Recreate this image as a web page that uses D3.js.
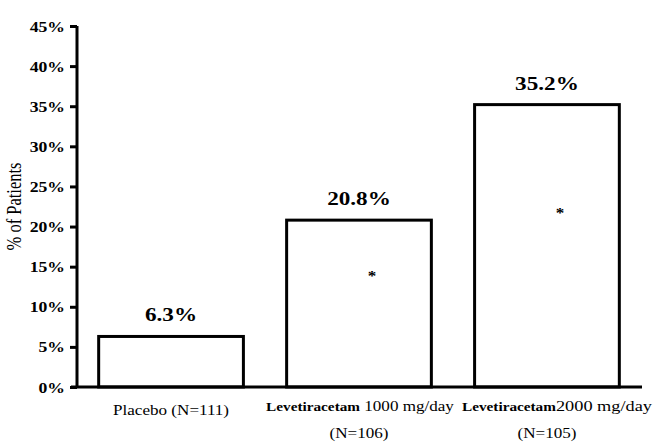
<!DOCTYPE html>
<html>
<head>
<meta charset="utf-8">
<script src="https://cdn.jsdelivr.net/npm/d3@7"></script>
<style>
  html, body { margin: 0; padding: 0; background: #fff; }
  svg { display: block; }
  text { font-family: "Liberation Serif", "Times New Roman", serif; fill: #000; }
</style>
</head>
<body>
<svg id="chart" width="660" height="448"></svg>
<script>
// ---- data ----
const categories = ["Placebo", "Lev1000", "Lev2000"];
const values = [6.3, 20.8, 35.2];
const valueLabels = ["6.3%", "20.8%", "35.2%"];
const labelBold = ["", "Levetiracetam", "Levetiracetam"];
const labelNormal = ["Placebo (N=111)", " 1000 mg/day", "2000 mg/day"];
const labelLine2 = ["", "(N=106)", "(N=105)"];
const asteriskCats = ["Lev1000", "Lev2000"];
const asteriskAt = [14.0, 21.8];
const yTicks = [0, 5, 10, 15, 20, 25, 30, 35, 40, 45];
const yTitle = "% of Patients";

// ---- layout ----
const svg = d3.select("#chart");
const SX = 1.22; // horizontal glyph stretch seen in the reference
const line1Shift = [0, 1, 10];
const x = d3.scaleBand().domain(categories).range([78, 640]).paddingInner(0.23).paddingOuter(0.11);
const y = d3.scaleLinear().domain([0, 45]).range([387, 26]);

// bars
svg.append("g").selectAll("rect").data(categories).join("rect")
  .attr("x", d => x(d))
  .attr("y", (d, i) => y(values[i]))
  .attr("width", x.bandwidth())
  .attr("height", (d, i) => y(0) - y(values[i]))
  .attr("fill", "#fff")
  .attr("stroke", "#000")
  .attr("stroke-width", 3);

// y axis
const yAxis = svg.append("g").attr("transform", "translate(77,0)")
  .call(d3.axisLeft(y).tickValues(yTicks).tickSize(7).tickFormat(d => d + "%"));
yAxis.select(".domain").attr("stroke", "#000").attr("stroke-width", 3)
  .attr("d", `M0,${y(45)}V${y(0)}`);
yAxis.selectAll(".tick line").attr("stroke", "#000").attr("stroke-width", 3);
yAxis.selectAll(".tick text")
  .attr("x", null).attr("dy", null)
  .style("font-family", "'Liberation Serif', serif")
  .style("font-size", "14.5px").style("font-weight", "bold")
  .attr("text-anchor", "end")
  .attr("transform", `translate(-12,5) scale(${SX},1)`);

// x axis line
svg.append("line")
  .attr("x1", 71).attr("x2", 642)
  .attr("y1", y(0)).attr("y2", y(0))
  .attr("stroke", "#000").attr("stroke-width", 3);

// value labels
svg.append("g").selectAll("text").data(categories).join("text")
  .attr("transform", (d, i) => `translate(${x(d) + x.bandwidth() / 2},${y(values[i]) - 15}) scale(${SX},1)`)
  .attr("text-anchor", "middle")
  .style("font-size", "19px").style("font-weight", "bold")
  .text((d, i) => valueLabels[i]);

// asterisks
svg.append("g").selectAll("text").data(asteriskCats).join("text")
  .attr("transform", (d, i) => `translate(${x(d) + x.bandwidth() / 2 + 13},${y(asteriskAt[i]) + 6}) scale(${SX},1)`)
  .attr("text-anchor", "middle")
  .style("font-size", "14px").style("font-weight", "bold")
  .text("*");

// category labels
const cl = svg.append("g").selectAll("g").data(categories).join("g")
  .attr("transform", d => `translate(${x(d) + x.bandwidth() / 2},0)`);
cl.append("text")
  .attr("transform", (d, i) => `translate(${line1Shift[i]},${i === 0 ? 415 : 411}) scale(${SX},1)`)
  .attr("text-anchor", "middle")
  .each(function (d, i) {
    const t = d3.select(this);
    if (labelBold[i]) t.append("tspan").style("font-weight", "bold").style("font-size", "12.5px").text(labelBold[i]);
    t.append("tspan").style("font-size", i === 2 ? "15px" : "14px").text(labelNormal[i]);
  });
cl.append("text")
  .attr("transform", `translate(0,438) scale(${SX},1)`)
  .attr("text-anchor", "middle")
  .style("font-size", "14px")
  .text((d, i) => labelLine2[i]);

// y title
svg.append("text")
  .attr("transform", `translate(21,${(y(0) + y(45)) / 2}) scale(${SX},1) rotate(-90)`)
  .attr("text-anchor", "middle")
  .style("font-size", "16.5px")
  .text(yTitle);
</script>
</body>
</html>
